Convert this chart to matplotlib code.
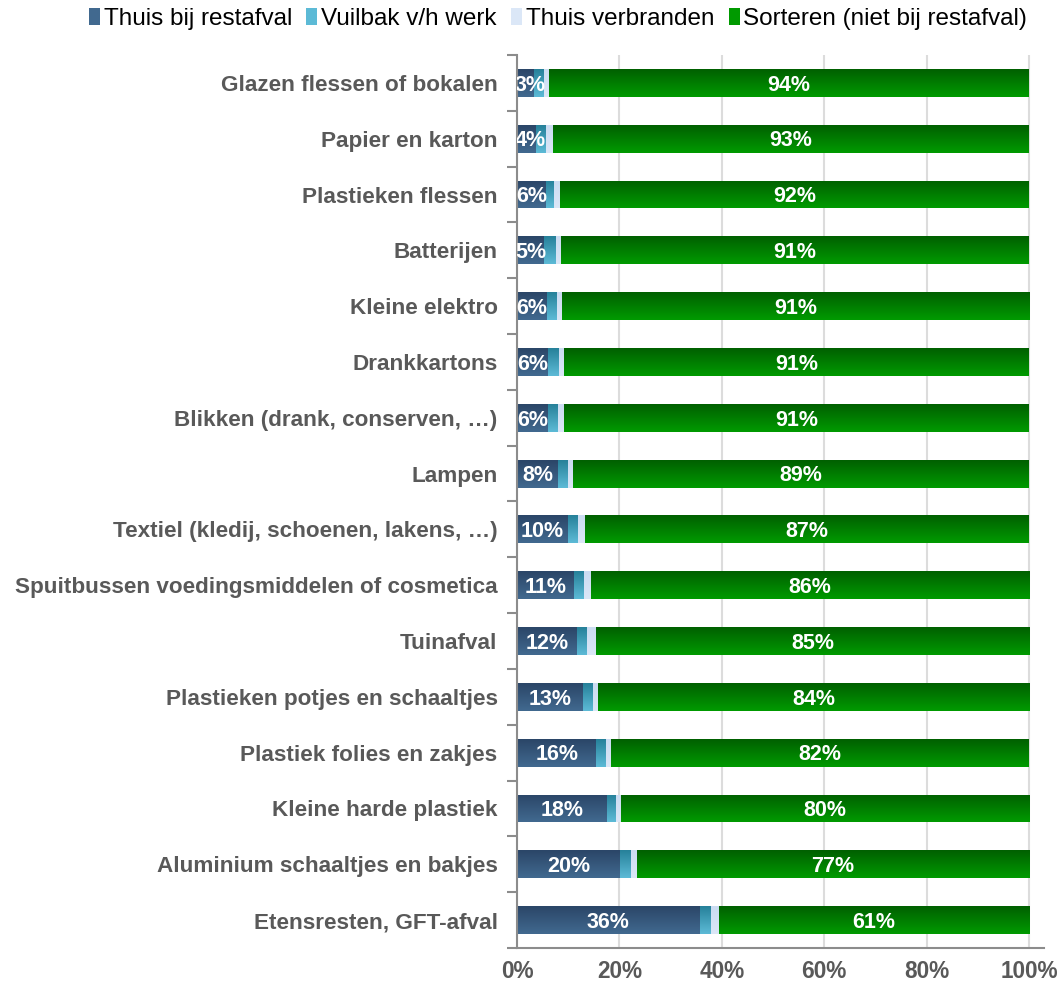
import matplotlib
matplotlib.use("Agg")
import matplotlib.pyplot as plt
from matplotlib.patches import Patch
from matplotlib.colors import LinearSegmentedColormap
import numpy as np

plt.rcParams['font.family'] = ['Liberation Sans', 'DejaVu Sans']

categories = [
    "Glazen flessen of bokalen",
    "Papier en karton",
    "Plastieken flessen",
    "Batterijen",
    "Kleine elektro",
    "Drankkartons",
    "Blikken (drank, conserven, …)",
    "Lampen",
    "Textiel (kledij, schoenen, lakens, …)",
    "Spuitbussen voedingsmiddelen of cosmetica",
    "Tuinafval",
    "Plastieken potjes en schaaltjes",
    "Plastiek folies en zakjes",
    "Kleine harde plastiek",
    "Aluminium schaaltjes en bakjes",
    "Etensresten, GFT-afval",
]
restafval = [3.3, 3.7, 5.6, 5.3, 5.8, 6.0, 6.0, 8.0, 10.0, 11.1, 11.7, 12.8, 15.5, 17.5, 20.1, 35.7]
vuilbak = [2.0, 2.0, 1.7, 2.3, 2.0, 2.2, 2.1, 2.0, 2.0, 2.0, 2.0, 2.0, 1.8, 1.8, 2.1, 2.1]
verbranden = [1.0, 1.4, 1.1, 1.0, 0.9, 1.0, 1.1, 1.0, 1.3, 1.3, 1.7, 1.0, 1.1, 1.0, 1.2, 1.6]
sorteren = [93.7, 92.9, 91.6, 91.4, 91.3, 90.8, 90.8, 89.0, 86.7, 85.6, 84.6, 84.2, 81.6, 79.7, 76.6, 60.6]

series = [
    ("Thuis bij restafval", restafval, "#2b4668", "#41698f"),
    ("Vuilbak v/h werk", vuilbak, "#27819a", "#5cbad6"),
    ("Thuis verbranden", verbranden, "#cbdcf2", "#dbe7f7"),
    ("Sorteren (niet bij restafval)", sorteren, "#006000", "#009a00"),
]

fig = plt.figure(figsize=(10.61, 9.84), dpi=100)
ax = fig.add_axes([0.4873, 0.0366, 0.497, 0.9075])

y = np.arange(len(categories))
left = np.zeros(len(categories))
grey = "#595959"

for i, (name, vals, c_top, c_bot) in enumerate(series):
    vals = np.array(vals)
    bars = ax.barh(y, vals, left=left, height=0.5, color=c_bot, edgecolor="none", zorder=2)
    cmap = LinearSegmentedColormap.from_list(name, [c_top, c_bot])
    for b in bars:
        x0, y0 = b.get_x(), b.get_y()
        w, h = b.get_width(), b.get_height()
        im = ax.imshow(np.linspace(0, 1, 32).reshape(-1, 1), cmap=cmap, aspect="auto",
                       extent=(x0, x0 + w, y0 + h, y0), origin="upper", zorder=2.5)
        im.set_clip_path(b)
    if i in (0, 3):
        for yy, l, v in zip(y, left, vals):
            # small labels are pushed right so they stay mostly inside the axes
            xc = max(l + v / 2, 2.6)
            ax.text(xc, yy + 0.04, f"{round(v):.0f}%", ha="center", va="center",
                    color="white", fontsize=15.5, fontweight="bold", zorder=4, clip_on=True)
    left = left + vals

ax.set_xlim(0, 103)
ax.set_ylim(len(categories) - 0.5, -0.5)
ax.set_xticks([0, 20, 40, 60, 80, 100])
ax.set_xticklabels(["0%", "20%", "40%", "60%", "80%", "100%"])
ax.xaxis.grid(True, color="#dcdcdc", linewidth=1.5, zorder=0)
ax.set_axisbelow(True)
ax.set_yticks(y)
ax.set_yticklabels(categories)
ax.set_yticks(np.arange(-0.5, len(categories), 1), minor=True)
ax.tick_params(axis="y", which="major", length=0, pad=14, labelsize=16.2, labelcolor=grey)
ax.tick_params(axis="y", which="minor", length=7, width=1.5, color="#8c8c8c", direction="out")
ax.tick_params(axis="x", length=0, pad=9, labelsize=16.3, labelcolor=grey)
for lab in ax.get_yticklabels() + ax.get_xticklabels():
    lab.set_fontweight("bold")
for s in ("top", "right"):
    ax.spines[s].set_visible(False)
for s in ("left", "bottom"):
    ax.spines[s].set_color("#8c8c8c")
    ax.spines[s].set_linewidth(1.5)

handles = [Patch(facecolor=c_bot, edgecolor="none", label=n) for n, _, _, c_bot in series]
fig.legend(handles=handles, loc="center", bbox_to_anchor=(0.526, 0.981), ncol=4, frameon=False,
           fontsize=17.5, handlelength=0.45, handleheight=0.75, handletextpad=0.15, columnspacing=0.6)

fig.savefig("out.png", dpi=100)
